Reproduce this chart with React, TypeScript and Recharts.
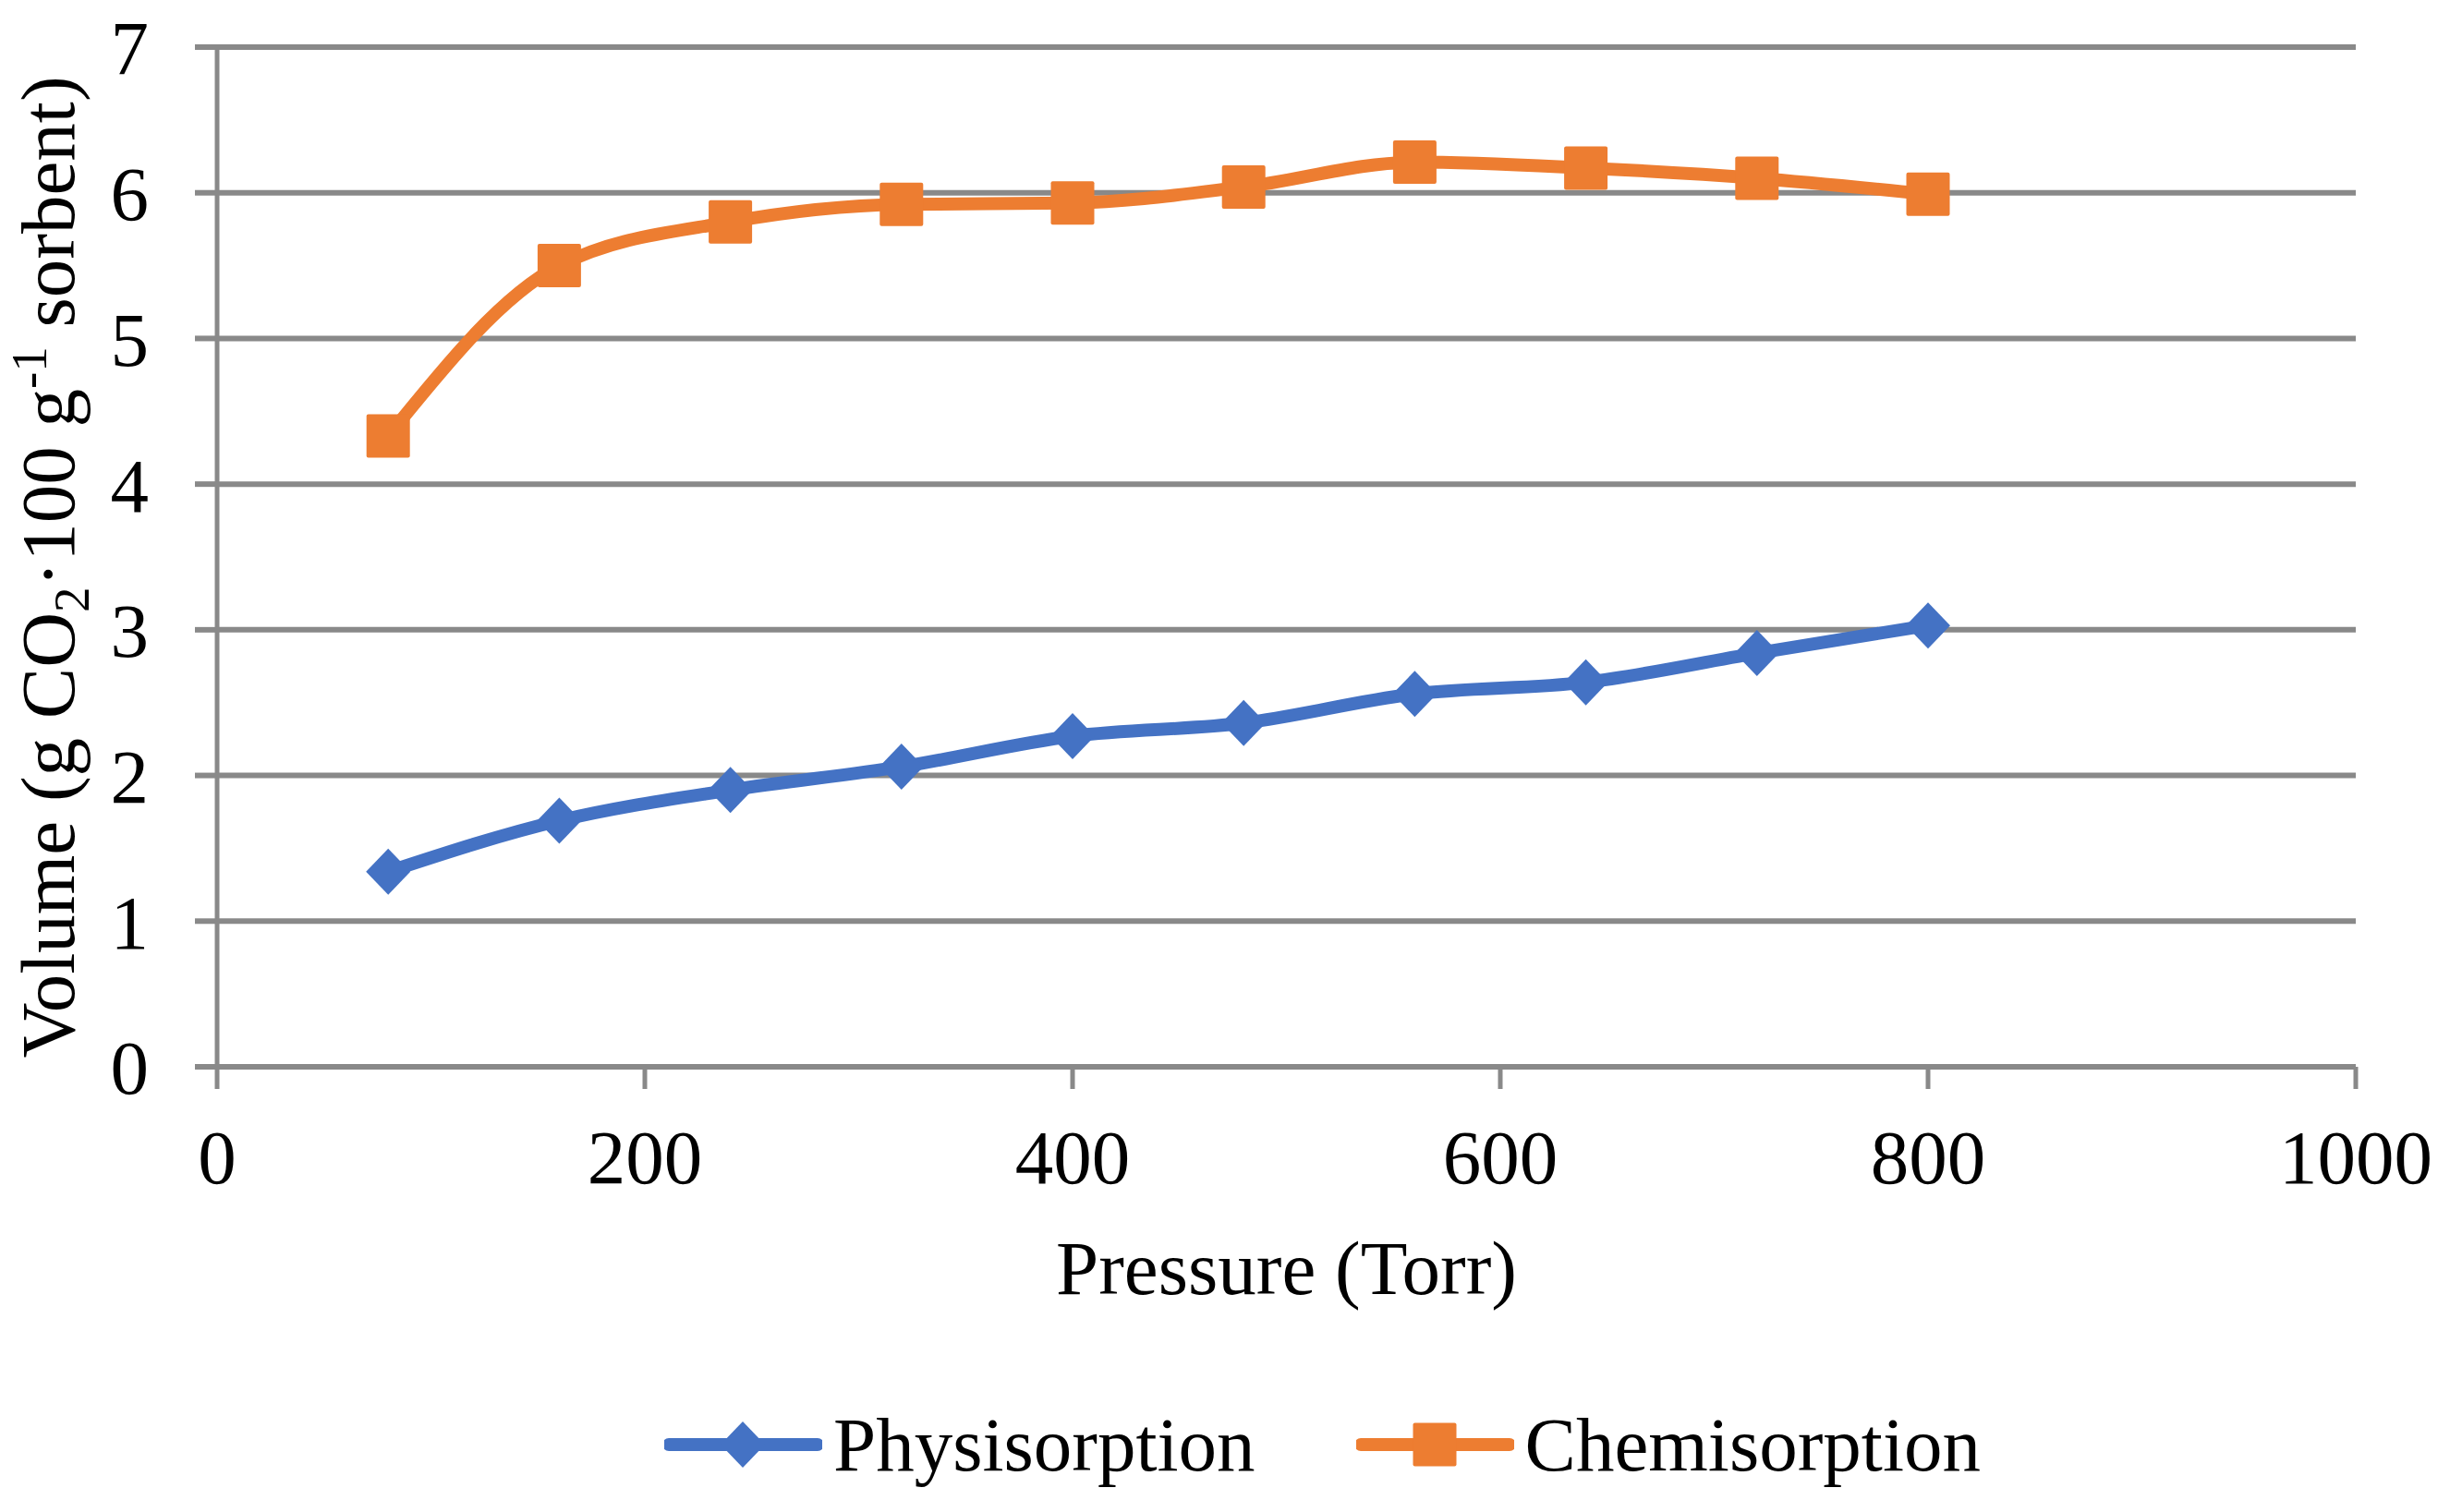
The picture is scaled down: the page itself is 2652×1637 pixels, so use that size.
import React from "react";
import { LineChart, Line, XAxis, YAxis, CartesianGrid, Legend } from "recharts";

const pressure = [80, 160, 240, 320, 400, 480, 560, 640, 720, 800];
const physisorption = [1.34, 1.69, 1.9, 2.06, 2.27, 2.36, 2.56, 2.64, 2.84, 3.03];
const chemisorption = [4.33, 5.5, 5.8, 5.92, 5.93, 6.04, 6.21, 6.17, 6.1, 5.99];
const xTicks = [0, 200, 400, 600, 800, 1000];
const yTicks = [0, 1, 2, 3, 4, 5, 6, 7];

const BLUE = "#4472C4";
const ORANGE = "#ED7D31";
const GRID = "#898989";
const FONT = "'Liberation Serif', 'Times New Roman', serif";
const FS = 83;

const data = pressure.map((p, i) => ({
  pressure: p,
  physisorption: physisorption[i],
  chemisorption: chemisorption[i],
}));

function Diamond({ cx, cy, fill }: { cx: number; cy: number; fill: string }) {
  return (
    <polygon
      points={`${cx},${cy - 25} ${cx + 24},${cy} ${cx},${cy + 25} ${cx - 24},${cy}`}
      fill={fill}
    />
  );
}

function Square({ cx, cy, fill }: { cx: number; cy: number; fill: string }) {
  return <rect x={cx - 23.5} y={cy - 23.5} width={47} height={47} rx={2} fill={fill} />;
}

const series = [
  { key: "physisorption", name: "Physisorption", color: BLUE, marker: "diamond" },
  { key: "chemisorption", name: "Chemisorption", color: ORANGE, marker: "square" },
];

function LegendContent() {
  return (
    <div style={{ display: "flex", alignItems: "center", height: 120, paddingLeft: 719 }}>
      {series.map((s, i) => (
        <div
          key={s.key}
          style={{ display: "flex", alignItems: "center", marginRight: i === 0 ? 109 : 0 }}
        >
          <svg width={171} height={60}>
            <line x1={5} y1={30} x2={166} y2={30} stroke={s.color} strokeWidth={14} strokeLinecap="round" />
            {s.marker === "diamond" ? (
              <Diamond cx={85} cy={30} fill={s.color} />
            ) : (
              <Square cx={85} cy={30} fill={s.color} />
            )}
          </svg>
          <span style={{ fontFamily: FONT, fontSize: FS, color: "#000", marginLeft: 12, lineHeight: 1 }}>
            {s.name}
          </span>
        </div>
      ))}
    </div>
  );
}

function YTitle() {
  const x = 80;
  const y = 614;
  return (
    <text
      x={x}
      y={y}
      transform={`rotate(-90, ${x}, ${y})`}
      textAnchor="middle"
      fontFamily={FONT}
      fontSize={FS}
      fill="#000"
    >
      Volume (g CO
      <tspan dy={16} fontSize={55}>2</tspan>
      <tspan dy={-16}>·100 g</tspan>
      <tspan dy={-30} fontSize={55}>-1</tspan>
      <tspan dy={30}> sorbent)</tspan>
    </text>
  );
}

export default function App() {
  return (
    <div style={{ position: "absolute", left: 0, top: 0, background: "#fff" }}>
      <LineChart
        width={2652}
        height={1637}
        data={data}
        margin={{ top: 51, right: 102, left: 0, bottom: 13 }}
        style={{ fontFamily: FONT }}
      >
        <CartesianGrid vertical={false} stroke={GRID} strokeWidth={6} />
        <XAxis
          dataKey="pressure"
          type="number"
          domain={[0, 1000]}
          ticks={xTicks}
          height={349}
          tickSize={24}
          tickMargin={43}
          axisLine={{ stroke: GRID, strokeWidth: 6 }}
          tickLine={{ stroke: GRID, strokeWidth: 5 }}
          tick={{ fill: "#000", fontSize: FS, fontFamily: FONT }}
          label={{
            value: "Pressure (Torr)",
            position: "insideTop",
            offset: 187,
            fill: "#000",
            fontSize: FS,
            fontFamily: FONT,
          }}
        />
        <YAxis
          type="number"
          domain={[0, 7]}
          ticks={yTicks}
          width={235}
          tickSize={24}
          tickMargin={50}
          axisLine={{ stroke: GRID, strokeWidth: 5 }}
          tickLine={{ stroke: GRID, strokeWidth: 6 }}
          tick={{ fill: "#000", fontSize: FS, fontFamily: FONT }}
          label={{ content: () => <YTitle /> }}
        />
        <Legend
          verticalAlign="bottom"
          content={() => <LegendContent />}
          wrapperStyle={{ height: 120 }}
        />
        <Line
          type="monotone"
          dataKey="physisorption"
          name="Physisorption"
          stroke={BLUE}
          strokeWidth={14}
          isAnimationActive={false}
          dot={(p: any) => <Diamond key={`pd-${p.index}`} cx={p.cx} cy={p.cy} fill={BLUE} />}
          activeDot={false}
        />
        <Line
          type="monotone"
          dataKey="chemisorption"
          name="Chemisorption"
          stroke={ORANGE}
          strokeWidth={14}
          isAnimationActive={false}
          dot={(p: any) => <Square key={`cd-${p.index}`} cx={p.cx} cy={p.cy} fill={ORANGE} />}
          activeDot={false}
        />
      </LineChart>
    </div>
  );
}
